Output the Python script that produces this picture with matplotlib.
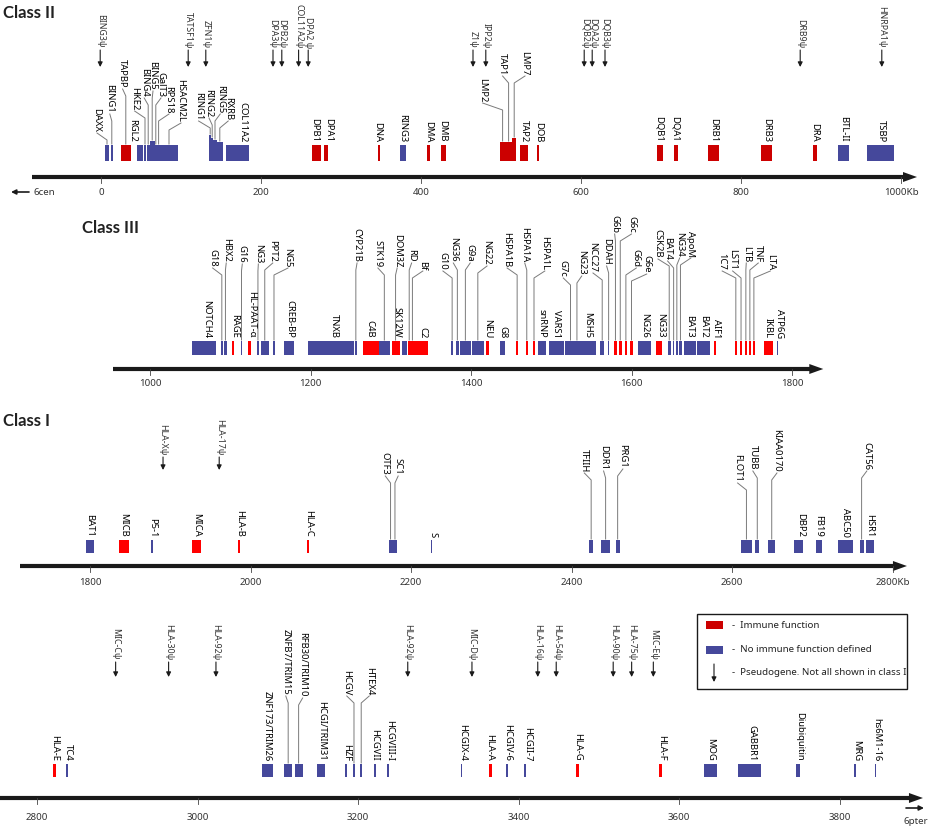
import matplotlib
matplotlib.use('Agg')
import matplotlib.pyplot as plt
from matplotlib.patches import Rectangle, Polygon

plt.rcParams['font.family'] = ['Noto Sans', 'DejaVu Sans']

DARK_RED = '#cc0000'
RED = '#ff0000'
BLUE = '#45489b'
INK = '#1a1a1a'

# ---------------- data (Kb) ----------------
# Class II
c2_names = ['DAXX', 'BING1', 'TAPBP', 'RGL2', 'HKE2', 'BING4', 'BING5', 'GalT3', 'RPS18',
            'HSACM2L', 'RING1', 'RING2', 'RING5', 'RXRB', 'COL11A2', 'DPB1', 'DPA1', 'DNA',
            'RING3', 'DMA', 'DMB', 'LMP2', 'TAP1', 'LMP7', 'TAP2', 'DOB', 'DQB1', 'DQA1',
            'DRB1', 'DRB3', 'DRA', 'BTL-II', 'TSBP']
c2_start = [5, 12, 25, 45, 54, 57, 61, 67, 70, 74, 135, 138, 140, 145, 156, 264, 279, 346,
            374, 407, 425, 499, 505, 514, 524, 545, 695, 716, 759, 825, 890, 921, 958]
c2_end = [10, 15, 37, 52, 56, 61, 67, 70, 74, 96, 138, 140, 145, 152, 185, 275, 284, 349,
          381, 411, 431, 505, 514, 519, 534, 548, 702, 721, 773, 839, 895, 935, 991]
c2_immune = [0, 0, 1, 0, 0, 0, 0, 0, 0, 0, 0, 0, 0, 0, 0, 1, 1, 1,
             0, 1, 1, 1, 1, 1, 1, 1, 1, 1, 1, 1, 1, 0, 0]
c2_pseudo = ['BING3ψ', 'TATSF1ψ', 'ZFN1ψ', 'DPA3ψ', 'DPB2ψ', 'COL11A2ψ', 'DPA2 ψ', 'Z1ψ',
             'IPP2ψ', 'DQB2ψ', 'DQA2ψ', 'DQB3ψ', 'DRB9ψ', 'HNRPA1ψ']
c2_pseudo_kb = [-1, 109, 131, 215, 226, 247, 259, 465, 481, 604, 614, 630, 874, 976]
c2_ticks = [0, 200, 400, 600, 800, 1000]
c2_ticklabels = ['0', '200', '400', '600', '800', '1000Kb']

# Class III
c3_names = ['NOTCH4', 'G18', 'HBX2', 'RAGE', 'G16', 'HL-PAAT-α', 'NG3', 'PPT2', 'NG5',
            'CREB-BP', 'TNXB', 'CYP21B', 'C4B', 'STK19', 'DOM3Z', 'SK12W', 'RD', 'Bf', 'C2',
            'G10', 'NG36', 'G9a', 'NG22', 'NEU', 'G8', 'HSPA1B', 'HSPA1A', 'HSPA1L', 'snRNP',
            'VARS1', 'G7c', 'NG23', 'MSH5', 'NCC27', 'DDAH', 'G6b', 'G6c', 'G6d', 'G6e',
            'NG26', 'NG33', 'CSK2B', 'BAT4', 'NG34', 'ApoM', 'BAT3', 'BAT2', 'AIF1', '1C7',
            'LST1', 'LTB', 'TNF', 'LTA', 'IKBL', 'ATP6G']
c3_start = [1052, 1088, 1092, 1102, 1113, 1122, 1133, 1138, 1153, 1167, 1197, 1255, 1265,
            1285, 1301, 1314, 1321, 1325, 1329, 1375, 1381, 1386, 1401, 1419, 1436, 1456,
            1468, 1477, 1483, 1497, 1517, 1531, 1533, 1561, 1571, 1578, 1584, 1592, 1598,
            1608, 1630, 1645, 1652, 1655, 1659, 1665, 1682, 1703, 1729, 1735, 1741, 1746,
            1751, 1765, 1781]
c3_end = [1082, 1091, 1096, 1105, 1115, 1126, 1136, 1148, 1156, 1179, 1254, 1258, 1285,
          1299, 1311, 1320, 1325, 1329, 1346, 1378, 1385, 1400, 1416, 1422, 1442, 1459,
          1471, 1480, 1493, 1516, 1531, 1533, 1556, 1566, 1572, 1582, 1588, 1594, 1602,
          1624, 1638, 1649, 1653, 1658, 1663, 1680, 1698, 1705, 1731, 1738, 1744, 1749,
          1754, 1776, 1782]
c3_immune = [0, 0, 0, 1, 0, 1, 0, 0, 0, 0, 0, 0, 1, 0, 1, 0, 1, 1, 1,
             0, 0, 0, 0, 1, 0, 1, 1, 1, 0, 0, 0, 0, 0, 0, 0, 1, 1, 1, 1,
             0, 1, 0, 0, 0, 0, 0, 0, 1, 1, 1, 1, 1, 1, 1, 0]
c3_ticks = [1000, 1200, 1400, 1600, 1800]
c3_ticklabels = ['1000', '1200', '1400', '1600', '1800']

# Class I
c1_names = ['BAT1', 'MICB', 'P5-1', 'MICA', 'HLA-B', 'HLA-C', 'OTF3', 'SC1', 'S', 'TFIIH',
            'DDR1', 'PRG1', 'FLOT1', 'TUBB', 'KIAA0170', 'DBP2', 'FB19', 'ABC50', 'CAT56',
            'HSR1']
c1_start = [1795, 1836, 1876, 1927, 1984, 2070, 2172, 2178, 2225, 2422, 2437, 2455, 2611,
            2629, 2645, 2677, 2705, 2732, 2759, 2767]
c1_end = [1805, 1849, 1879, 1938, 1987, 2073, 2177, 2182, 2226, 2427, 2448, 2460, 2625,
          2634, 2654, 2688, 2712, 2751, 2764, 2777]
c1_immune = [0, 1, 0, 1, 1, 1, 0, 0, 0, 0, 0, 0, 0, 0, 0, 0, 0, 0, 0, 0]
c1_pseudo = ['HLA-Xψ', 'HLA-17ψ']
c1_pseudo_kb = [1891, 1961]
c1_ticks = [1800, 2000, 2200, 2400, 2600, 2800]
c1_ticklabels = ['1800', '2000', '2200', '2400', '2600', '2800Kb']

# Class I (telomeric part)
c4_names = ['HLA-E', 'TC4', 'ZNF173/TRIM26', 'ZNFB7/TRIM15', 'RFB30/TRIM10', 'HCGI/TRIM31',
            'HZF', 'HCGV', 'HTEX4', 'HCGVII', 'HCGVIII-I', 'HCGIX-4', 'HLA-A', 'HCGIV-6',
            'HCGII-7', 'HLA-G', 'HLA-F', 'MOG', 'GABBR1', 'Diubiquitin', 'MRG', 'hs6M1-16']
c4_start = [2820, 2836, 3080, 3108, 3121, 3149, 3184, 3194, 3203, 3220, 3236, 3328, 3363,
            3384, 3407, 3472, 3575, 3631, 3673, 3746, 3818, 3844]
c4_end = [2824, 2839, 3094, 3118, 3131, 3159, 3186, 3196, 3205, 3222, 3239, 3330, 3367,
          3387, 3409, 3475, 3579, 3647, 3702, 3751, 3820, 3846]
c4_immune = [1, 0, 0, 0, 0, 0, 0, 0, 0, 0, 0, 0, 1, 0, 0, 1, 1, 0, 0, 0, 0, 0]
c4_pseudo = ['MIC-Cψ', 'HLA-30ψ', 'HLA-92ψ', 'HLA-92ψ', 'MIC-Dψ', 'HLA-16ψ', 'HLA-54ψ',
             'HLA-90ψ', 'HLA-75ψ', 'MIC-Eψ']
c4_pseudo_kb = [2898, 2964, 3023, 3262, 3342, 3424, 3447, 3518, 3541, 3568]
c4_ticks = [2800, 3000, 3200, 3400, 3600, 3800]
c4_ticklabels = ['2800', '3000', '3200', '3400', '3600', '3800']

# ---------------- layout ----------------
# label x (Kb) and label bottom (px from top, None = sits right above the box)
c2_lab_x = [-5, 11, 27, 39, 42, 54, 65, 75, 85, 100, 122, 135, 149, 159, 177, 267, 284, 346,
            377, 409, 427, 477, 502, 530, 529, 547, 698, 718, 766, 832, 892, 928, 975]
c2_lab_y = [132, 113, 88, None, 110, 97, 90, 97, 113, 122, 120, 117, 113, 120, None, None,
            None, None, None, None, None, 102, 75, 75, None, None, None, None, None, None,
            None, None, None]
c2_raised = {'BING5': 142, 'RING1': 136, 'RING2': 139, 'RING5': 141, 'RXRB': 143,
             'LMP2': 143, 'TAP1': 143, 'LMP7': 139}

c3_lab_x = [1071, 1078, 1095, 1105, 1115, 1127, 1135, 1153, 1172, 1174, 1230, 1258, 1274,
            1284, 1308, 1308, 1326, 1340, 1340, 1365, 1378, 1399, 1420, 1421, 1440, 1445,
            1467, 1492, 1488, 1507, 1515, 1538, 1545, 1552, 1569, 1579, 1600, 1606, 1619,
            1616, 1636, 1633, 1645, 1660, 1674, 1673, 1690, 1706, 1713, 1726, 1743, 1758,
            1773, 1770, 1785]
c3_lab_y = [None, 267, 262, None, 263, None, 263, 262, 267, None, None, 262, None,
            267, 267, None, 262, 270, None, 270, 262, 262, 265, None, None, 267,
            262, 270, None, None, 277, 275, None, 272, 265, 233, 233, 267, 273,
            None, None, 258, 260, 257, 257, None, None, None, 270, 270, 262, 262,
            270, None, None]

c1_lab_x = [1800, 1842, 1878, 1933, 1986, 2072, 2168, 2184, 2227, 2416, 2440, 2464, 2607,
            2626, 2656, 2685, 2708, 2742, 2768, 2772]
c1_lab_y = [None, None, None, None, None, None, 475, 475, None, 472, 470, 468, 482, 470,
            472, None, None, None, 470, None]

c4_lab_x = [2822, 2839, 3087, 3110, 3131, 3155, 3186, 3186, 3214, 3221, 3239, 3330, 3364,
            3387, 3411, 3474, 3578, 3640, 3691, 3750, 3821, 3847]
c4_lab_y = [None, None, None, 695, 697, None, None, 695, 695, None, None, None, None,
            None, None, None, None, None, None, None, None, None]

panels = [
    dict(px0=101, kb0=0, scale=0.8, top=146, bot=162, axis_y=178, ax_from=-86, ax_to=1020,
         tick_y=193, p_bottom=48, p_arrow=68, red=DARK_RED, title='Class II', title_xy=(3, 13)),
    dict(px0=150, kb0=1000, scale=0.8025, top=342, bot=356, axis_y=370, ax_from=954,
         ax_to=1839, tick_y=384, p_bottom=0, p_arrow=0, red=RED, title='Class III',
         title_xy=(82, 228)),
    dict(px0=90, kb0=1800, scale=0.8025, top=541, bot=554, axis_y=567, ax_from=1713,
         ax_to=2818, tick_y=583, p_bottom=455, p_arrow=471, red=RED, title='Class I',
         title_xy=(3, 421)),
    dict(px0=37, kb0=2800, scale=0.8025, top=765, bot=778, axis_y=799, ax_from=2754,
         ax_to=3904, tick_y=818, p_bottom=660, p_arrow=678, red=RED, title=None,
         title_xy=None),
]

W, H = 930, 828
fig = plt.figure(figsize=(W / 100, H / 100), dpi=100)
fig.patch.set_facecolor('white')


def draw_panel(g, names, starts, ends, immune, lab_x, lab_y, raised,
               pseudo, pseudo_kb, ticks, ticklabels):
    ax = fig.add_axes([0, 0, 1, 1])
    ax.set_xlim(g['kb0'] - g['px0'] / g['scale'], g['kb0'] + (W - g['px0']) / g['scale'])
    ax.set_ylim(H, 0)
    ax.axis('off')
    ax.patch.set_alpha(0)

    for name, s, e, imm, lx, ly in zip(names, starts, ends, immune, lab_x, lab_y):
        top = raised.get(name, g['top'])
        ax.add_patch(Rectangle((s, top), e - s, g['bot'] - top, lw=0,
                               facecolor=g['red'] if imm else BLUE))
        gx = (s + e) / 2
        if ly is None:
            ax.text(lx, top - 4, name, rotation=270, ha='center', va='bottom',
                    fontsize=6.8, color='#000')
        else:
            ax.text(lx, ly, name, rotation=270, ha='center', va='bottom',
                    fontsize=6.8, color='#000')
            ax.plot([lx, gx, gx], [ly + 2, ly + 9, top - 1], color='#7a7a7a', lw=0.7)

    for name, x in zip(pseudo, pseudo_kb):
        ax.text(x, g['p_bottom'], name, rotation=270, ha='center', va='bottom',
                fontsize=6.3, color='#333')
        ax.annotate('', xy=(x, g['p_arrow']), xytext=(x, g['p_bottom'] + 3),
                    arrowprops=dict(arrowstyle='-|>', color=INK, lw=0.8,
                                    mutation_scale=7, shrinkA=0, shrinkB=0))

    # chromosome axis with arrow head
    y = g['axis_y']
    head = 14 / g['scale']
    ax.plot([g['ax_from'], g['ax_to'] - head * 0.8], [y, y], color=INK, lw=3, solid_capstyle='butt')
    ax.add_patch(Polygon([(g['ax_to'], y), (g['ax_to'] - head, y - 5),
                          (g['ax_to'] - head, y + 5)], closed=True, color=INK, lw=0))
    for t, lab in zip(ticks, ticklabels):
        if t < g['ax_to'] - head:
            ax.plot([t, t], [y, y + 6], color='#444', lw=0.6)
        ax.text(t, g['tick_y'], lab, ha='center', va='center', fontsize=7, color='#333')
    if g['title']:
        base.text(g['title_xy'][0], g['title_xy'][1], g['title'], fontsize=12,
                  fontweight='bold', family=['Lato', 'DejaVu Sans'],
                  ha='left', va='center', color='#222')
    return ax


base = fig.add_axes([0, 0, 1, 1])
base.set_xlim(0, W)
base.set_ylim(H, 0)
base.axis('off')

draw_panel(panels[0], c2_names, c2_start, c2_end, c2_immune, c2_lab_x, c2_lab_y, c2_raised,
           c2_pseudo, c2_pseudo_kb, c2_ticks, c2_ticklabels)
draw_panel(panels[1], c3_names, c3_start, c3_end, c3_immune, c3_lab_x, c3_lab_y, {},
           [], [], c3_ticks, c3_ticklabels)
draw_panel(panels[2], c1_names, c1_start, c1_end, c1_immune, c1_lab_x, c1_lab_y, {},
           c1_pseudo, c1_pseudo_kb, c1_ticks, c1_ticklabels)
draw_panel(panels[3], c4_names, c4_start, c4_end, c4_immune, c4_lab_x, c4_lab_y, {},
           c4_pseudo, c4_pseudo_kb, c4_ticks, c4_ticklabels)

# chromosome ends
base.annotate('', xy=(11, 193), xytext=(29, 193),
              arrowprops=dict(arrowstyle='-|>', color=INK, lw=1.2, mutation_scale=7,
                              shrinkA=0, shrinkB=0))
base.text(33, 193, '6cen', fontsize=7, ha='left', va='center', color='#333')
base.annotate('', xy=(924, 809), xytext=(906, 809),
              arrowprops=dict(arrowstyle='-|>', color=INK, lw=1.2, mutation_scale=7,
                              shrinkA=0, shrinkB=0))
base.text(916, 822, '6pter', fontsize=7, ha='center', va='center', color='#333')

# legend
base.add_patch(Rectangle((697, 615), 210, 75, fill=False, edgecolor=INK, lw=1))
base.add_patch(Rectangle((706, 622), 17, 8, facecolor=DARK_RED, lw=0))
base.add_patch(Rectangle((706, 647), 17, 8, facecolor=BLUE, lw=0))
base.annotate('', xy=(714, 683), xytext=(714, 665),
              arrowprops=dict(arrowstyle='-|>', color=INK, lw=0.8, mutation_scale=7,
                              shrinkA=0, shrinkB=0))
base.text(732, 626, '-  Immune function', fontsize=7, va='center', color='#222')
base.text(732, 650, '-  No immune function defined', fontsize=7, va='center', color='#222')
base.text(732, 673, '-  Pseudogene. Not all shown in class I', fontsize=7, va='center',
          color='#222')

fig.savefig('out.png', dpi=100, facecolor='white')
